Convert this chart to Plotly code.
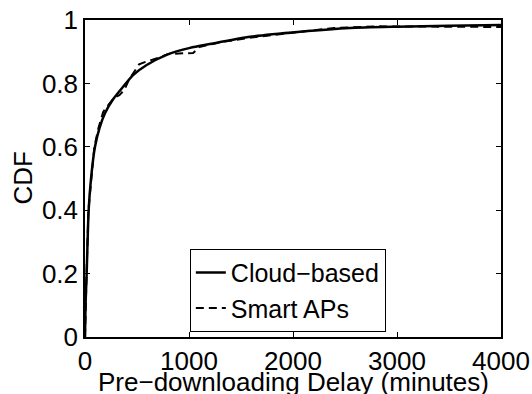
import plotly.graph_objects as go

# Cloud-based CDF (minutes, CDF)
cloud_x = [0, 5, 16, 35, 58, 96, 140, 192, 270, 368, 462, 593, 785, 1010, 1200,
           1587, 2067, 2548, 3000, 3500, 4000]
cloud_y = [0, 0.1, 0.2, 0.4, 0.5, 0.6, 0.66, 0.706, 0.75, 0.79, 0.826, 0.858, 0.89,
           0.912, 0.924, 0.947, 0.963, 0.975, 0.979, 0.982, 0.984]

# Smart APs CDF
smart_x = [0, 5, 15, 33, 58, 90, 130, 175, 220, 280, 330, 380, 420, 470, 520, 600,
           700, 800, 900, 1040, 1100, 1300, 1600, 2000, 2400, 2800, 3200, 3600, 4000]
smart_y = [0, 0.1, 0.2, 0.4, 0.5, 0.6, 0.66, 0.71, 0.73, 0.755, 0.763, 0.78, 0.81,
           0.835, 0.86, 0.87, 0.88, 0.893, 0.895, 0.896, 0.915, 0.93, 0.945, 0.96,
           0.975, 0.98, 0.98, 0.978, 0.978]

x_ticks = [0, 1000, 2000, 3000, 4000]
y_ticks = [0, 0.2, 0.4, 0.6, 0.8, 1]
y_tick_text = ["0", "0.2", "0.4", "0.6", "0.8", "1"]

FONT = "Liberation Sans, Arial, Helvetica, sans-serif"
FS = 26

fig = go.Figure()
fig.add_trace(go.Scatter(x=cloud_x, y=cloud_y, mode="lines", name="Cloud\u2212based",
                         line=dict(color="black", width=2.5, shape="spline", smoothing=0.6)))
fig.add_trace(go.Scatter(x=smart_x, y=smart_y, mode="lines", name="Smart APs",
                         line=dict(color="black", width=2, dash="8px,5px")))

axis_common = dict(showline=True, linecolor="black", linewidth=1.5, mirror="ticks",
                   ticks="inside", ticklen=5, tickcolor="black", tickwidth=1,
                   showgrid=False, zeroline=False, automargin=False,
                   tickfont=dict(family=FONT, size=FS, color="black"))

fig.update_xaxes(range=[0, 4000], tickvals=x_ticks, ticklabelstandoff=0, **axis_common)
fig.update_yaxes(range=[0, 1], tickvals=y_ticks, ticktext=y_tick_text,
                 ticklabelstandoff=0, **axis_common)

fig.add_annotation(text="Pre\u2212downloading Delay (minutes)", xref="paper", yref="paper",
                   x=0.5, y=0, xanchor="center", yanchor="middle", yshift=-45,
                   showarrow=False, font=dict(family=FONT, size=FS, color="black"))
fig.add_annotation(text="CDF", xref="paper", yref="paper", textangle=-90,
                   x=0, y=0.5, xanchor="center", yanchor="middle", xshift=-63,
                   showarrow=False, font=dict(family=FONT, size=FS, color="black"))

fig.update_layout(
    width=532, height=394,
    margin=dict(l=85, r=31, t=20, b=57),
    paper_bgcolor="white", plot_bgcolor="white",
    showlegend=True,
    legend=dict(x=0.252, y=0.278, xanchor="left", yanchor="top",
                bgcolor="white", bordercolor="black", borderwidth=1,
                font=dict(family=FONT, size=25, color="black"),
                tracegroupgap=0, itemwidth=30),
)

fig.write_html("out.html")
